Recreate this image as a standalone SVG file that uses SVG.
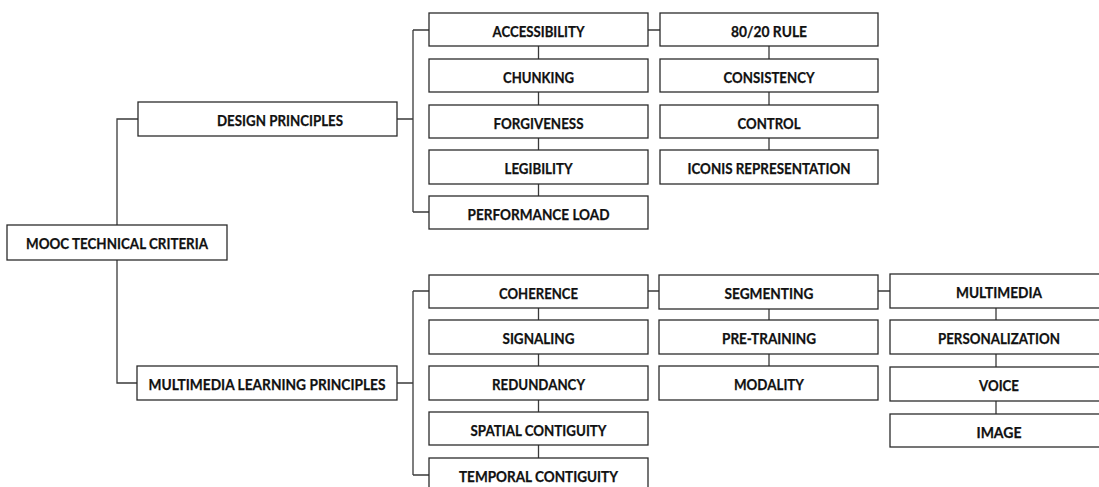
<svg xmlns="http://www.w3.org/2000/svg" width="1099" height="487" viewBox="0 0 1099 487">
<style>
.box{fill:#fff;stroke:#2b2b2b;stroke-width:1.3}
.lbl{font-family:Lato,"Open Sans",sans-serif;font-weight:bold;font-size:15px;fill:#111;stroke:#111;stroke-width:0.25;text-anchor:middle}
.con{fill:none;stroke:#3a3a3a;stroke-width:1.3}
</style>
<rect width="1099" height="487" fill="#fff"/>
<g id="connectors">
<path class="con" d="M138,119 H117 V225 M117,260 V383 H137"/>
<path class="con" d="M397,119 H413 M413,30 V212 M413,30 H429 M413,212 H429"/>
<path class="con" d="M538.5,46 V59 M538.5,92 V105 M538.5,138 V150 M538.5,184 V196"/>
<path class="con" d="M648,30 H660 M769,46 V59 M769,92 V105 M769,138 V150"/>
<path class="con" d="M397,383 H413 M413,291 V475 M413,291 H429 M413,475 H429"/>
<path class="con" d="M538.5,308 V320 M538.5,354 V366 M538.5,400 V412 M538.5,445 V458"/>
<path class="con" d="M648,291 H659 M769,309 V320 M769,354 V366"/>
<path class="con" d="M878,291 H890 M996,308 V320 M996,354 V367 M996,401 V414"/>
</g>
<g id="root"><rect class="box" x="7" y="225" width="220" height="35"/><text class="lbl" x="117" y="249" textLength="182" lengthAdjust="spacingAndGlyphs">MOOC TECHNICAL CRITERIA</text></g>
<g id="design"><rect class="box" x="138" y="102" width="259" height="34"/><text class="lbl" x="280" y="126" textLength="126" lengthAdjust="spacingAndGlyphs">DESIGN PRINCIPLES</text></g>
<g id="mlp"><rect class="box" x="137" y="366" width="260" height="34"/><text class="lbl" x="267" y="390" textLength="237" lengthAdjust="spacingAndGlyphs">MULTIMEDIA LEARNING PRINCIPLES</text></g>
<g id="accessibility"><rect class="box" x="429" y="13" width="219" height="33"/><text class="lbl" x="538.5" y="37" textLength="92" lengthAdjust="spacingAndGlyphs">ACCESSIBILITY</text></g>
<g id="chunking"><rect class="box" x="429" y="59" width="219" height="33"/><text class="lbl" x="538.5" y="83" textLength="71" lengthAdjust="spacingAndGlyphs">CHUNKING</text></g>
<g id="forgiveness"><rect class="box" x="429" y="105" width="219" height="33"/><text class="lbl" x="538.5" y="129" textLength="90" lengthAdjust="spacingAndGlyphs">FORGIVENESS</text></g>
<g id="legibility"><rect class="box" x="429" y="150" width="219" height="34"/><text class="lbl" x="538.5" y="174" textLength="68" lengthAdjust="spacingAndGlyphs">LEGIBILITY</text></g>
<g id="performance"><rect class="box" x="429" y="196" width="219" height="33"/><text class="lbl" x="538.5" y="220" textLength="142" lengthAdjust="spacingAndGlyphs">PERFORMANCE LOAD</text></g>
<g id="rule8020"><rect class="box" x="660" y="13" width="218" height="33"/><text class="lbl" x="769" y="37" textLength="76" lengthAdjust="spacingAndGlyphs">80/20 RULE</text></g>
<g id="consistency"><rect class="box" x="660" y="59" width="218" height="33"/><text class="lbl" x="769" y="83" textLength="91" lengthAdjust="spacingAndGlyphs">CONSISTENCY</text></g>
<g id="control"><rect class="box" x="660" y="105" width="218" height="33"/><text class="lbl" x="769" y="129" textLength="63" lengthAdjust="spacingAndGlyphs">CONTROL</text></g>
<g id="iconis"><rect class="box" x="660" y="150" width="218" height="34"/><text class="lbl" x="769" y="174" textLength="163" lengthAdjust="spacingAndGlyphs">ICONIS REPRESENTATION</text></g>
<g id="coherence"><rect class="box" x="429" y="275" width="219" height="33"/><text class="lbl" x="538.5" y="299" textLength="79" lengthAdjust="spacingAndGlyphs">COHERENCE</text></g>
<g id="signaling"><rect class="box" x="429" y="320" width="219" height="34"/><text class="lbl" x="538.5" y="344" textLength="72" lengthAdjust="spacingAndGlyphs">SIGNALING</text></g>
<g id="redundancy"><rect class="box" x="429" y="366" width="219" height="34"/><text class="lbl" x="538.5" y="390" textLength="93" lengthAdjust="spacingAndGlyphs">REDUNDANCY</text></g>
<g id="spatial"><rect class="box" x="429" y="412" width="219" height="33"/><text class="lbl" x="538.5" y="436" textLength="136" lengthAdjust="spacingAndGlyphs">SPATIAL CONTIGUITY</text></g>
<g id="temporal"><rect class="box" x="429" y="458" width="219" height="34"/><text class="lbl" x="538.5" y="482" textLength="159" lengthAdjust="spacingAndGlyphs">TEMPORAL CONTIGUITY</text></g>
<g id="segmenting"><rect class="box" x="659" y="275" width="219" height="34"/><text class="lbl" x="769" y="299" textLength="89" lengthAdjust="spacingAndGlyphs">SEGMENTING</text></g>
<g id="pretraining"><rect class="box" x="659" y="320" width="219" height="34"/><text class="lbl" x="769" y="344" textLength="94" lengthAdjust="spacingAndGlyphs">PRE-TRAINING</text></g>
<g id="modality"><rect class="box" x="659" y="366" width="219" height="34"/><text class="lbl" x="769" y="390" textLength="70" lengthAdjust="spacingAndGlyphs">MODALITY</text></g>
<g id="multimedia"><rect class="box" x="890" y="274" width="218" height="34"/><text class="lbl" x="999" y="298" textLength="86" lengthAdjust="spacingAndGlyphs">MULTIMEDIA</text></g>
<g id="personalization"><rect class="box" x="890" y="320" width="218" height="34"/><text class="lbl" x="999" y="344" textLength="122" lengthAdjust="spacingAndGlyphs">PERSONALIZATION</text></g>
<g id="voice"><rect class="box" x="890" y="367" width="218" height="34"/><text class="lbl" x="999" y="391" textLength="40" lengthAdjust="spacingAndGlyphs">VOICE</text></g>
<g id="image"><rect class="box" x="890" y="414" width="218" height="33"/><text class="lbl" x="999" y="438" textLength="45" lengthAdjust="spacingAndGlyphs">IMAGE</text></g>
</svg>
